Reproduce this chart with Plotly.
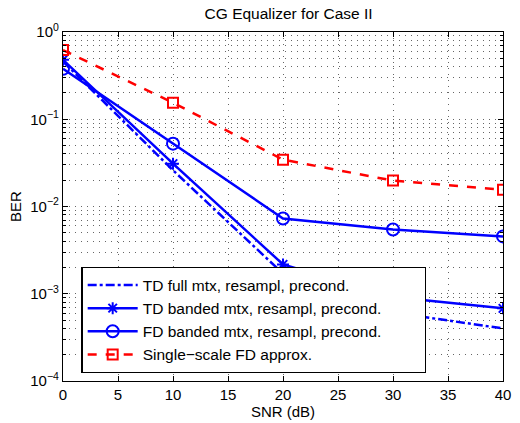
import plotly.graph_objects as go

# SNR points (dB)
snr = [0, 10, 20, 30, 40]

# Bit error rates for each receiver variant
ber_td_full = [0.46, 0.026, 0.0017, 0.00061, 0.00040]
ber_td_banded = [0.48, 0.031, 0.00217, 0.00092, 0.00068]
ber_fd_banded = [0.378, 0.0525, 0.0073, 0.00546, 0.00454]
ber_single_scale = [0.62, 0.155, 0.0344, 0.0198, 0.0156]

names = [
    "TD full mtx, resampl, precond.",
    "TD banded mtx, resampl, precond.",
    "FD banded mtx, resampl, precond.",
    "Single\u2212scale FD approx.",
]

y_tickvals = [1e-4, 1e-3, 1e-2, 1e-1, 1]
y_ticktext = ["10<sup>\u22124</sup>", "10<sup>\u22123</sup>", "10<sup>\u22122</sup>",
              "10<sup>\u22121</sup>", "10<sup>0</sup>"]
x_tickvals = [0, 5, 10, 15, 20, 25, 30, 35, 40]

blue = "#0000ff"
red = "#ff0000"
grid_color = "#666666"
grid_dash = "1px,5px"

# right-hand padding inside the legend frame
pad = "\u00a0" * 9

fig = go.Figure()
fig.add_trace(go.Scatter(
    x=snr, y=ber_td_full, name=names[0], mode="lines",
    line=dict(color=blue, width=2.5, dash="dashdot"),
))
fig.add_trace(go.Scatter(
    x=snr, y=ber_td_banded, name=names[1] + pad, mode="lines+markers",
    line=dict(color=blue, width=2.5),
    marker=dict(symbol="asterisk-open", size=10, color=blue, line=dict(color=blue, width=2)),
))
fig.add_trace(go.Scatter(
    x=snr, y=ber_fd_banded, name=names[2], mode="lines+markers",
    line=dict(color=blue, width=2.5),
    marker=dict(symbol="circle-open", size=12, color=blue, line=dict(color=blue, width=2)),
))
fig.add_trace(go.Scatter(
    x=snr, y=ber_single_scale, name=names[3], mode="lines+markers",
    line=dict(color=red, width=2.5, dash="dash"),
    marker=dict(symbol="square-open", size=10, color=red, line=dict(color=red, width=2)),
))

axis_common = dict(
    showline=True, linecolor="black", linewidth=1.2, mirror="ticks",
    ticks="inside", ticklen=5, tickcolor="black",
    gridcolor=grid_color, griddash=grid_dash, gridwidth=1,
    zeroline=False, tickfont=dict(size=15, color="black"),
)

fig.update_xaxes(
    range=[0, 40], tickvals=x_tickvals, showgrid=True,
    title=dict(text="SNR (dB)", font=dict(size=15, color="black"), standoff=0),
    **axis_common,
)
fig.update_yaxes(
    type="log", range=[-4, 0], tickvals=y_tickvals, ticktext=y_ticktext, showgrid=True,
    minor=dict(dtick="D1", showgrid=True, gridcolor=grid_color, griddash=grid_dash,
               ticks="inside", ticklen=3, tickcolor="black"),
    title=dict(text="BER", font=dict(size=15, color="black"), standoff=4),
    **axis_common,
)

fig.update_layout(
    width=520, height=423,
    margin=dict(l=63, r=9, t=32, b=41),
    paper_bgcolor="white", plot_bgcolor="white",
    font=dict(family="Liberation Sans, Arial, sans-serif", size=15, color="black"),
    title=dict(text="CG Equalizer for Case II", x=0.555, xanchor="center",
               y=0.98, yanchor="top", font=dict(size=15.5, color="black")),
    legend=dict(
        x=0.042, y=0.326, xanchor="left", yanchor="top",
        bgcolor="white", bordercolor="black", borderwidth=1.2,
        font=dict(size=15.5, color="black"), tracegroupgap=0,
        itemwidth=50,
    ),
    showlegend=True,
)

fig.write_html("out.html")
